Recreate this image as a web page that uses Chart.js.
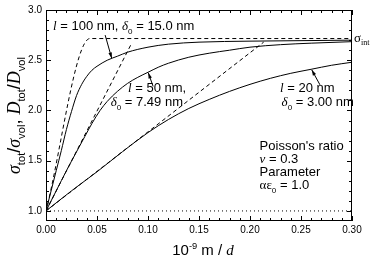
<!DOCTYPE html>
<html>
<head>
<meta charset="utf-8">
<script src="https://cdn.jsdelivr.net/npm/chart.js@4.4.0/dist/chart.umd.min.js"></script>
<style>
  html, body { margin: 0; padding: 0; background: #fff; }
  #wrap { width: 370px; height: 257px; }
</style>
</head>
<body>
<div id="wrap"><canvas id="grafica" width="370" height="257"></canvas></div>
<script>
// Datos
const xTicks = [0, 0.05, 0.10, 0.15, 0.20, 0.25, 0.30];
const yTicks = [1.0, 1.5, 2.0, 2.5, 3.0];

// l = 100 nm
const x100 = [0, 0.005, 0.010, 0.015, 0.020, 0.025, 0.030, 0.035, 0.040, 0.045, 0.050, 0.060, 0.070, 0.080, 0.100, 0.120, 0.150, 0.200, 0.250, 0.300];
const y100 = [1.00, 1.20, 1.40, 1.60, 1.81, 1.99, 2.15, 2.26, 2.34, 2.40, 2.44, 2.50, 2.54, 2.58, 2.63, 2.66, 2.68, 2.69, 2.695, 2.70];
// l = 50 nm
const x50 = [0, 0.010, 0.020, 0.030, 0.038, 0.045, 0.053, 0.060, 0.070, 0.080, 0.090, 0.100, 0.110, 0.120, 0.140, 0.160, 0.180, 0.200, 0.230, 0.260, 0.300];
const y50 = [1.00, 1.20, 1.40, 1.59, 1.74, 1.87, 2.00, 2.09, 2.19, 2.27, 2.33, 2.38, 2.43, 2.47, 2.53, 2.57, 2.60, 2.63, 2.655, 2.67, 2.685];
// l = 20 nm
const x20 = [0, 0.025, 0.050, 0.075, 0.100, 0.120, 0.140, 0.160, 0.180, 0.200, 0.220, 0.240, 0.260, 0.280, 0.300];
const y20 = [1.00, 1.20, 1.39, 1.59, 1.78, 1.91, 2.02, 2.11, 2.19, 2.26, 2.32, 2.37, 2.41, 2.45, 2.48];

// tangentes (discontinuas) y sigma_int
const xTan100 = [0, 0.0431, 0.300];
const yTan100 = [1.00, 2.716, 2.716];
const xTan50 = [0, 0.084];
const yTan50 = [1.00, 2.67];
const xTan20 = [0, 0.2134];
const yTan20 = [1.00, 2.68];
const xBase = [0, 0.300];
const yBase = [1.00, 1.00];

const puntos = (xs, ys) => xs.map((x, i) => ({ x: x, y: ys[i] }));

const SANS = '"Liberation Sans", Arial, sans-serif';
const SERIF = '"Liberation Serif", "Times New Roman", serif';

function linea(xs, ys, dash) {
  return {
    data: puntos(xs, ys),
    borderColor: '#000',
    borderWidth: 1,
    borderDash: dash || [],
    pointRadius: 0,
    cubicInterpolationMode: 'monotone',
    fill: false
  };
}

// Texto con cursivas, subíndices y superíndices
function segFont(s, size) {
  const sz = (s.sub || s.sup) ? size * 0.62 : size;
  const fam = s.serif ? SERIF : SANS;
  return (s.it ? 'italic ' : '') + sz + 'px ' + fam;
}
function anchoRico(ctx, segs, size) {
  let w = 0;
  segs.forEach(s => { ctx.font = segFont(s, size); w += ctx.measureText(s.t).width; });
  return w;
}
function textoRico(ctx, x, y, segs, size) {
  ctx.textBaseline = 'alphabetic';
  ctx.textAlign = 'left';
  segs.forEach(s => {
    ctx.font = segFont(s, size);
    let dy = 0;
    if (s.sub) dy = size * 0.3;
    if (s.sup) dy = -size * 0.42;
    ctx.fillText(s.t, x, y + dy);
    x += ctx.measureText(s.t).width;
  });
}

// Etiquetas: posición en unidades de datos
const etiquetas = [
  { x: 0.0069, y: 2.80, segs: [{ t: 'l', it: 1, serif: 1 }, { t: ' = 100 nm, ' }, { t: 'δ', it: 1, serif: 1 }, { t: '0', sub: 1 }, { t: ' = 15.0 nm' }] },
  { x: 0.0804, y: 2.185, segs: [{ t: 'l', it: 1, serif: 1 }, { t: ' = 50 nm,' }] },
  { x: 0.0634, y: 2.04, segs: [{ t: 'δ', it: 1, serif: 1 }, { t: '0', sub: 1 }, { t: ' = 7.49 nm' }] },
  { x: 0.2294, y: 2.185, segs: [{ t: 'l', it: 1, serif: 1 }, { t: ' = 20 nm' }] },
  { x: 0.2310, y: 2.04, segs: [{ t: 'δ', it: 1, serif: 1 }, { t: '0', sub: 1 }, { t: ' = 3.00 nm' }] },
  { x: 0.2094, y: 1.605, segs: [{ t: "Poisson's ratio" }] },
  { x: 0.2094, y: 1.475, segs: [{ t: 'ν', it: 1, serif: 1 }, { t: ' = 0.3' }] },
  { x: 0.2094, y: 1.345, segs: [{ t: 'Parameter' }] },
  { x: 0.2094, y: 1.215, segs: [{ t: 'αε', serif: 1 }, { t: '0', sub: 1 }, { t: ' = 1.0' }] }
];
const flechas = [
  { x1: 0.058, y1: 2.75, x2: 0.0644, y2: 2.52 },
  { x1: 0.105, y1: 2.24, x2: 0.1003, y2: 2.375 },
  { x1: 0.2686, y1: 2.255, x2: 0.2605, y2: 2.405 }
];

const decoracion = {
  id: 'decoracion',
  afterDatasetsDraw(chart) {
    const ctx = chart.ctx;
    const a = chart.chartArea;
    const sx = chart.scales.x, sy = chart.scales.y;
    ctx.save();
    ctx.fillStyle = '#000';
    ctx.strokeStyle = '#000';
    ctx.lineWidth = 1;

    // marco
    ctx.strokeRect(Math.round(a.left) + 0.5, Math.round(a.top) + 0.5,
      Math.round(a.right - a.left) - 1, Math.round(a.bottom - a.top) - 1);

    // marcas hacia dentro
    ctx.beginPath();
    for (let i = 0; i <= 30; i++) {
      const v = i / 100;
      const len = (i % 5 === 0) ? 5 : 3;
      const px = Math.round(sx.getPixelForValue(v)) + 0.5;
      ctx.moveTo(px, a.bottom); ctx.lineTo(px, a.bottom - len);
      ctx.moveTo(px, a.top); ctx.lineTo(px, a.top + len);
    }
    for (let i = 10; i <= 30; i++) {
      const v = i / 10;
      const len = (i % 5 === 0) ? 5 : 3;
      const py = Math.round(sy.getPixelForValue(v)) + 0.5;
      ctx.moveTo(a.left, py); ctx.lineTo(a.left + len, py);
      ctx.moveTo(a.right, py); ctx.lineTo(a.right - len, py);
    }
    ctx.stroke();

    // flechas
    flechas.forEach(f => {
      const x1 = sx.getPixelForValue(f.x1), y1 = sy.getPixelForValue(f.y1);
      const x2 = sx.getPixelForValue(f.x2), y2 = sy.getPixelForValue(f.y2);
      const ang = Math.atan2(y2 - y1, x2 - x1);
      ctx.beginPath();
      ctx.moveTo(x1, y1); ctx.lineTo(x2, y2);
      ctx.stroke();
      ctx.beginPath();
      ctx.moveTo(x2, y2);
      ctx.lineTo(x2 - 6 * Math.cos(ang - 0.3), y2 - 6 * Math.sin(ang - 0.3));
      ctx.lineTo(x2 - 6 * Math.cos(ang + 0.3), y2 - 6 * Math.sin(ang + 0.3));
      ctx.closePath();
      ctx.fill();
    });

    // etiquetas
    etiquetas.forEach(e => {
      textoRico(ctx, sx.getPixelForValue(e.x), sy.getPixelForValue(e.y), e.segs, 13);
    });

    // sigma_int a la derecha
    textoRico(ctx, a.right + 2, sy.getPixelForValue(2.716) + 3,
      [{ t: 'σ', serif: 1 }, { t: 'int', sub: 1, serif: 1 }], 13);

    // título eje x
    const segX = [{ t: '10' }, { t: '-9', sup: 1 }, { t: ' m / ' }, { t: 'd', it: 1, serif: 1 }];
    const wX = anchoRico(ctx, segX, 15);
    textoRico(ctx, (a.left + a.right) / 2 - wX / 2 + 4, 255, segX, 15);

    // título eje y
    const segY = [
      { t: 'σ', it: 1, serif: 1 }, { t: 'tot', sub: 1 }, { t: '/' },
      { t: 'σ', it: 1, serif: 1 }, { t: 'vol', sub: 1 }, { t: ', ' },
      { t: 'D', it: 1, serif: 1 }, { t: 'tot', sub: 1 }, { t: '/' },
      { t: 'D', it: 1, serif: 1 }, { t: 'vol', sub: 1 }
    ];
    const wY = anchoRico(ctx, segY, 18);
    ctx.translate(20, (a.top + a.bottom) / 2);
    ctx.rotate(-Math.PI / 2);
    textoRico(ctx, -wY / 2, 0, segY, 18);
    ctx.restore();
  }
};

const data = {
  datasets: [
    linea(x100, y100),
    linea(x50, y50),
    linea(x20, y20),
    linea(xTan100, yTan100, [4, 3]),
    linea(xTan50, yTan50, [4, 3]),
    linea(xTan20, yTan20, [4, 3]),
    linea(xBase, yBase, [1, 3])
  ]
};

const config = {
  type: 'line',
  data: data,
  plugins: [decoracion],
  options: {
    responsive: false,
    animation: false,
    layout: { padding: { top: 5, right: 18, left: 0, bottom: 0 } },
    plugins: { legend: { display: false }, tooltip: { enabled: false } },
    scales: {
      x: {
        type: 'linear', min: 0, max: 0.3,
        grid: { display: false, drawTicks: false },
        border: { display: false },
        afterBuildTicks: (s) => { s.ticks = xTicks.map(v => ({ value: v })); },
        afterFit: (s) => { s.height = 36; },
        ticks: {
          color: '#000', padding: 3, maxRotation: 0,
          font: { family: SANS, size: 10 },
          callback: (v) => Number(v).toFixed(2)
        }
      },
      y: {
        type: 'linear', min: 0.9, max: 3.0,
        grid: { display: false, drawTicks: false },
        border: { display: false },
        afterBuildTicks: (s) => { s.ticks = yTicks.map(v => ({ value: v })); },
        afterFit: (s) => { s.width = 46; },
        ticks: {
          color: '#000', padding: 4,
          font: { family: SANS, size: 10 },
          callback: (v) => Number(v).toFixed(1)
        }
      }
    }
  }
};

const grafica = new Chart(document.getElementById('grafica'), config);
</script>
</body>
</html>
